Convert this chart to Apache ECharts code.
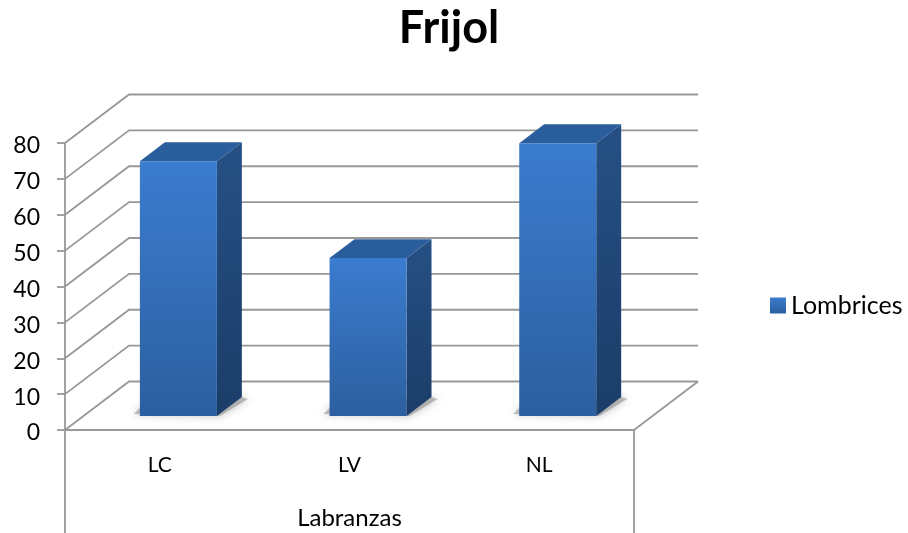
<!DOCTYPE html>
<html>
<head>
<meta charset="utf-8">
<title>Frijol</title>
<script src="https://cdn.jsdelivr.net/npm/echarts@6/dist/echarts.min.js"></script>
<style>
  html, body { margin: 0; padding: 0; background: #fff; }
  #chart { width: 908px; height: 533px; }
</style>
</head>
<body>
<div id="chart"></div>
<script>
// ── Data ───────────────────────────────────────────────
const categories = ['LC', 'LV', 'NL'];
const lombrices  = [71, 44, 76];
const yTicks     = [0, 10, 20, 30, 40, 50, 60, 70, 80];

// ── Look ───────────────────────────────────────────────
const FONT       = 'Lato, sans-serif';
const LINE_COLOR = '#989898';
const LINE_WIDTH = 1.8;
const WALL_DX    = 64;     // how far the back wall sits from the front plane
const WALL_DY    = -48.5;
const BAR_GAP    = 0.29;   // bar start, as a share of the floor depth
const BAR_DEPTH  = 0.39;   // bar depth, as a share of the floor depth
const BAR_WIDTH  = 77;

function vGrad(top, bottom) {
  return { type: 'linear', x: 0, y: 0, x2: 0, y2: 1,
           colorStops: [{ offset: 0, color: top }, { offset: 1, color: bottom }] };
}

const chart = echarts.init(document.getElementById('chart'));

// One gridline per tick: along the side wall, then along the back wall
function renderWall(params, api) {
  const v     = api.value(0);
  const band  = api.size([1, 0])[0];
  const left  = api.coord([0, v]);
  const right = api.coord([2, v]);
  const x0 = left[0] - band / 2;
  const x1 = right[0] + band / 2;
  const y  = left[1];
  const lineStyle = { stroke: LINE_COLOR, lineWidth: LINE_WIDTH, fill: 'none' };

  const children = [{
    type: 'polyline',
    shape: { points: [[x0, y], [x0 + WALL_DX, y + WALL_DY], [x1 + WALL_DX, y + WALL_DY]] },
    style: lineStyle,
  }];

  if (v === 0) {
    // Floor edge on the right, plus the dividers of the category labels
    const bottom = api.getHeight();
    children.push(
      { type: 'line', shape: { x1: x1, y1: y, x2: x1 + WALL_DX, y2: y + WALL_DY }, style: lineStyle },
      { type: 'line', shape: { x1: x0, y1: y, x2: x0, y2: bottom }, style: lineStyle },
      { type: 'line', shape: { x1: x1, y1: y, x2: x1, y2: bottom }, style: lineStyle },
    );
  }
  return { type: 'group', children };
}

// Front, side and top faces of a bar, with its shadow on the floor
function renderBar(params, api) {
  const i    = api.value(0);
  const top  = api.coord([i, api.value(1)]);
  const base = api.coord([i, 0]);

  const xl = base[0] + WALL_DX * BAR_GAP - BAR_WIDTH / 2;
  const xr = xl + BAR_WIDTH;
  const yb = base[1] + WALL_DY * BAR_GAP;
  const yt = top[1] + WALL_DY * BAR_GAP;
  const dx = WALL_DX * BAR_DEPTH;
  const dy = WALL_DY * BAR_DEPTH;

  return {
    type: 'group',
    children: [
      {
        type: 'polygon',
        shape: { points: [[xl - 6, yb - 2], [xl, yb - 8], [xr + dx, yb + dy], [xr + dx + 6, yb + dy + 2], [xr + 3, yb]] },
        style: { fill: 'rgba(140,140,140,0.55)', shadowBlur: 9, shadowColor: 'rgba(90,90,90,0.7)' },
      },
      {
        type: 'polygon',
        shape: { points: [[xr, yt], [xr + dx, yt + dy], [xr + dx, yb + dy], [xr, yb]] },
        style: { fill: vGrad('#265085', '#1B3D68') },
      },
      {
        type: 'polygon',
        shape: { points: [[xl, yt], [xl + dx, yt + dy], [xr + dx, yt + dy], [xr, yt]] },
        style: { fill: '#2A5D9C' },
      },
      {
        type: 'rect',
        shape: { x: xl, y: yt, width: BAR_WIDTH, height: yb - yt },
        style: { fill: vGrad('#3B7CCF', '#2C5F9F') },
      },
    ],
  };
}

chart.setOption({
  animation: false,
  backgroundColor: '#fff',
  textStyle: { fontFamily: FONT },

  title: {
    text: 'Frijol',
    left: 444,
    top: 1,
    textAlign: 'center',
    textStyle: { fontFamily: FONT, fontSize: 45, fontWeight: 'bold', color: '#000' },
  },

  legend: {
    data: ['Lombrices'],
    left: 765,
    top: 288,
    icon: 'rect',
    itemWidth: 16,
    itemHeight: 16,
    itemGap: 0,
    selectedMode: false,
    textStyle: { fontFamily: FONT, fontSize: 25, color: '#000', padding: [0, 0, 0, 0] },
  },

  grid: { left: 65, right: 274, top: 143, bottom: 103, outerBoundsMode: 'none' },

  xAxis: {
    type: 'category',
    data: categories,
    name: 'Labranzas',
    nameLocation: 'middle',
    nameGap: 76,
    nameTextStyle: { fontFamily: FONT, fontSize: 24, color: '#000' },
    axisTick: { show: false },
    axisLine: { lineStyle: { color: LINE_COLOR, width: LINE_WIDTH } },
    axisLabel: { fontFamily: FONT, fontSize: 21, color: '#000', margin: 25 },
  },

  yAxis: {
    type: 'value',
    min: 0,
    max: 80,
    interval: 10,
    splitLine: { show: false },
    axisLine: { show: true, lineStyle: { color: LINE_COLOR, width: LINE_WIDTH } },
    axisTick: { show: true, length: 8, lineStyle: { color: LINE_COLOR, width: LINE_WIDTH } },
    axisLabel: {
      color: '#000',
      margin: 25,
      align: 'right',
      // pushes the digits a little below their tick
      formatter: '{d|{value}}',
      rich: { d: { fontFamily: FONT, fontSize: 23, color: '#000', padding: [6, 0, 0, 0] } },
    },
  },

  series: [
    {
      type: 'custom',
      name: 'wall',
      silent: true,
      z: 1,
      encode: { y: 0 },
      data: yTicks.map(v => [v]),
      renderItem: renderWall,
    },
    {
      type: 'custom',
      name: 'Lombrices',
      z: 2,
      encode: { x: 0, y: 1 },
      itemStyle: { color: vGrad('#3B7CCF', '#2C5F9F') },
      data: lombrices.map((v, i) => [i, v]),
      renderItem: renderBar,
    },
  ],
});
</script>
</body>
</html>
